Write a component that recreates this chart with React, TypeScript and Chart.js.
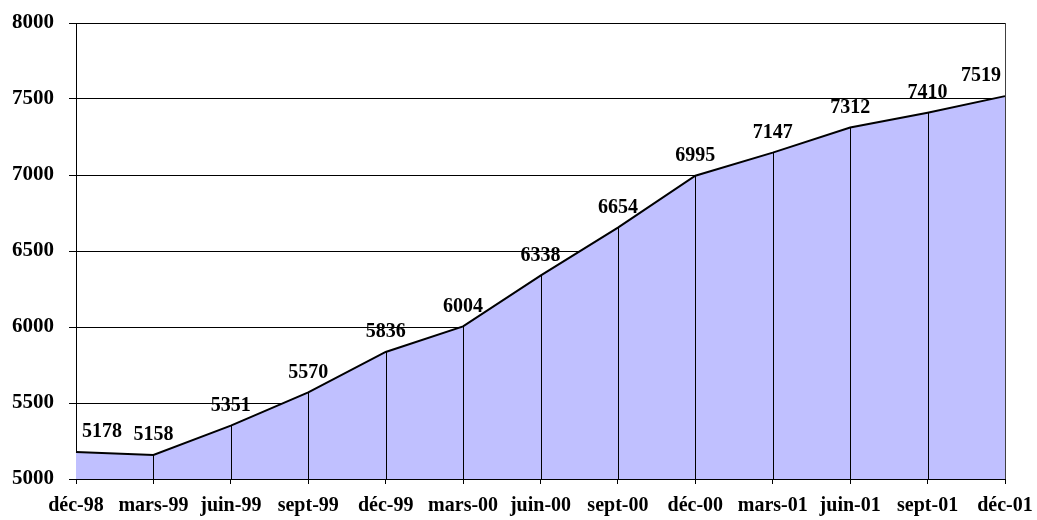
import React, { useEffect, useRef } from "react";
import { Chart, registerables } from "chart.js";

Chart.register(...registerables);

const categories = [
  "déc-98", "mars-99", "juin-99", "sept-99", "déc-99", "mars-00", "juin-00",
  "sept-00", "déc-00", "mars-01", "juin-01", "sept-01", "déc-01",
];
const values = [5178, 5158, 5351, 5570, 5836, 6004, 6338, 6654, 6995, 7147, 7312, 7410, 7519];
const yMin = 5000;
const yMax = 8000;
const yStep = 500;

const FONT = "'Liberation Serif', 'Times New Roman', serif";

const overlayPlugin = {
  id: "overlay",
  afterDatasetsDraw(chart: any) {
    const { ctx, chartArea } = chart;
    const meta = chart.getDatasetMeta(0);
    ctx.save();
    ctx.strokeStyle = "#000";
    ctx.lineWidth = 1;
    meta.data.forEach((pt: any, i: number) => {
      if (i === 0 || i === meta.data.length - 1) return;
      const x = Math.round(pt.x) + 0.5;
      ctx.beginPath();
      ctx.moveTo(x, pt.y);
      ctx.lineTo(x, chartArea.bottom);
      ctx.stroke();
    });
    ctx.strokeStyle = "#404040";
    ctx.beginPath();
    ctx.moveTo(Math.round(chartArea.right) + 0.5, chartArea.top);
    ctx.lineTo(Math.round(chartArea.right) + 0.5, chartArea.bottom);
    ctx.stroke();
    ctx.font = `bold 20px ${FONT}`;
    ctx.fillStyle = "#000";
    ctx.textAlign = "center";
    ctx.textBaseline = "bottom";
    meta.data.forEach((pt: any, i: number) => {
      const txt = String(values[i]);
      const w = ctx.measureText(txt).width;
      let cx = pt.x;
      cx = Math.max(cx, chartArea.left + 6 + w / 2);
      cx = Math.min(cx, chartArea.right - 4 - w / 2);
      ctx.fillText(txt, cx, pt.y - 10);
    });
    ctx.restore();
  },
};

export default function App() {
  const ref = useRef<HTMLCanvasElement | null>(null);
  useEffect(() => {
    if (!ref.current) return;
    const chart = new Chart(ref.current, {
      type: "line",
      data: {
        labels: categories,
        datasets: [
          {
            data: values,
            borderColor: "#000",
            borderWidth: 2,
            backgroundColor: "#C0C0FF",
            fill: "start",
            pointRadius: 0,
            tension: 0,
          },
        ],
      },
      options: {
        animation: false,
        responsive: true,
        maintainAspectRatio: false,
        layout: { padding: { top: 23, right: 32, left: 0, bottom: 0 } },
        plugins: { legend: { display: false }, tooltip: { enabled: false } },
        scales: {
          x: {
            offset: false,
            grid: {
              display: true,
              drawOnChartArea: false,
              drawTicks: true,
              tickLength: 5,
              color: "#000",
            },
            border: { display: true, color: "#000", width: 1 },
            ticks: {
              color: "#000",
              font: { family: FONT, size: 20, weight: "bold" },
              padding: 10,
              maxRotation: 0,
              autoSkip: false,
            },
            afterFit(scale: any) {
              scale.height = 41;
              scale.paddingLeft = 0;
              scale.paddingRight = 0;
              scale.paddingTop = 0;
              scale.paddingBottom = 0;
            },
          },
          y: {
            min: yMin,
            max: yMax,
            grid: { color: "#000", tickLength: 7, lineWidth: 1 },
            border: { display: true, color: "#000", width: 1 },
            ticks: {
              stepSize: yStep,
              color: "#000",
              padding: 15,
              font: { family: FONT, size: 21, weight: "bold" },
              callback: (v: any) => String(v),
            },
            afterFit(scale: any) {
              scale.width = 76;
              scale.paddingLeft = 0;
              scale.paddingRight = 0;
              scale.paddingTop = 0;
              scale.paddingBottom = 0;
            },
          },
        },
      },
      plugins: [overlayPlugin],
    });
    return () => chart.destroy();
  }, []);
  return (
    <div style={{ position: "absolute", left: 0, top: 0, width: 1037, height: 520, background: "#fff" }}>
      <canvas ref={ref} />
    </div>
  );
}
